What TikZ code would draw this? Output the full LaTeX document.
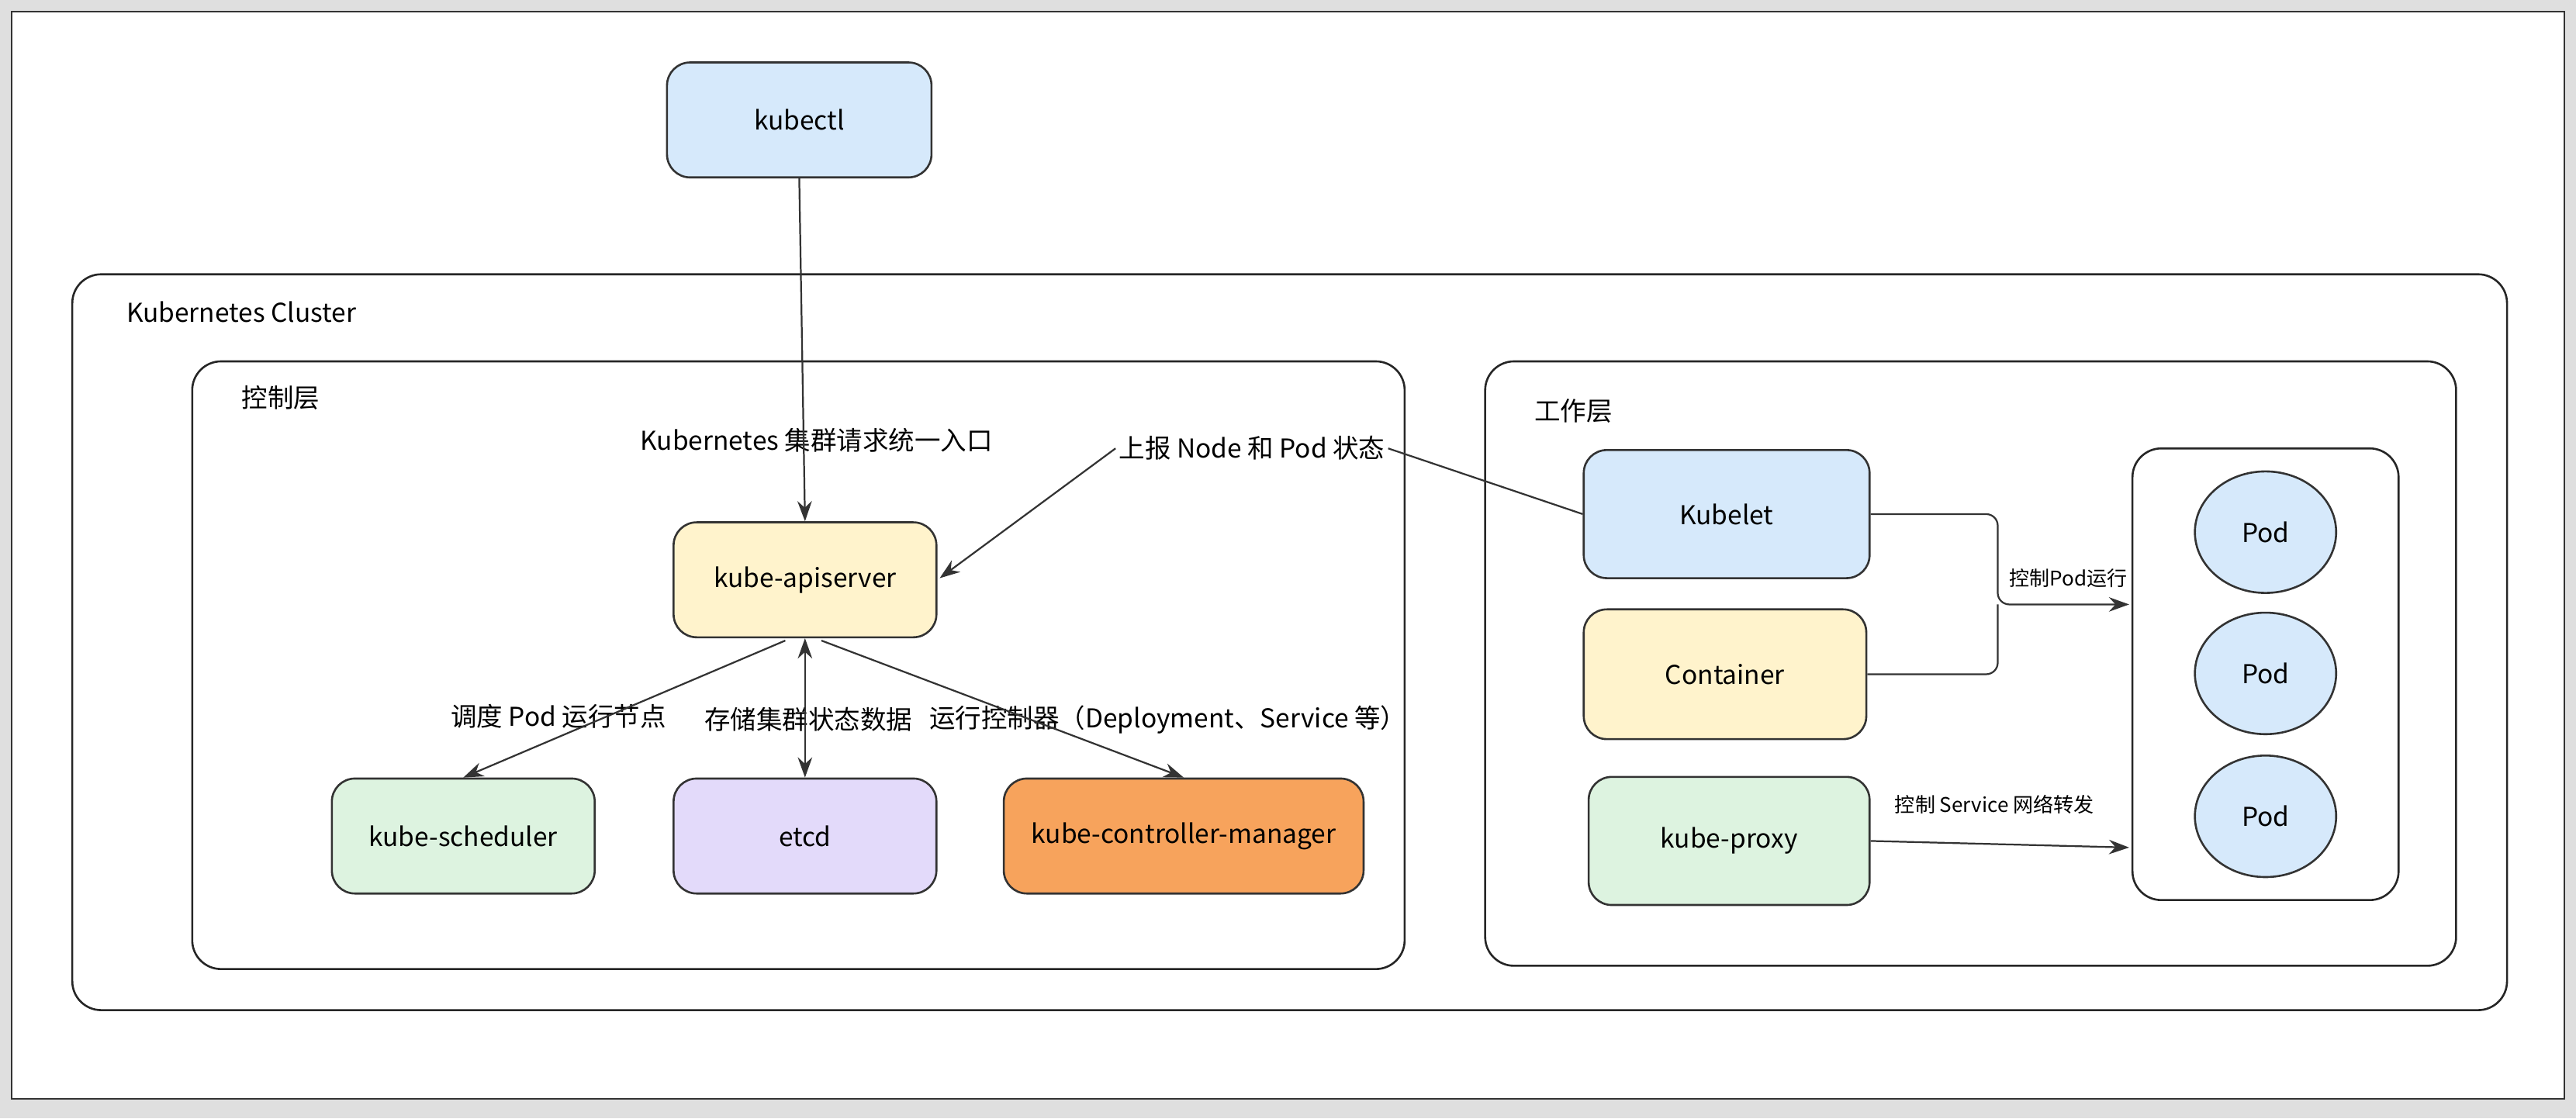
\documentclass[tikz,border=0pt]{standalone}
\usepackage{fontspec}
\setmainfont{Noto Sans CJK SC}
\usetikzlibrary{arrows.meta}
\definecolor{fblue}{HTML}{D6E9FB}
\definecolor{fyel}{HTML}{FFF3CC}
\definecolor{fgreen}{HTML}{DDF3E0}
\definecolor{fpurp}{HTML}{E3DAFA}
\definecolor{forange}{HTML}{F7A35C}
\tikzset{
  box/.style={draw=black!80,line width=0.7pt,rounded corners=8pt,inner sep=0pt,font=\fontsize{9}{10}\selectfont},
  frame/.style={draw=black!85,line width=0.7pt,rounded corners=10pt,inner sep=0pt},
  lab/.style={font=\fontsize{9}{10}\selectfont,inner sep=1pt},
  slab/.style={font=\fontsize{7}{8}\selectfont,inner sep=1pt},
  arr/.style={draw=black!80,line width=0.6pt,-{Stealth[length=7pt,width=5pt]}},
  pod/.style={draw=black!80,line width=0.7pt,ellipse,fill=fblue,minimum width=1.72cm,minimum height=1.48cm,font=\fontsize{9}{10}\selectfont}
}
\newcommand\bx[7]{\node[#6,minimum width={(#4-#2)*0.02cm},minimum height={(#5-#3)*0.02cm}] (#1) at ({(#2+#4)/2},{(#3+#5)/2}) {#7};}
\usetikzlibrary{shapes.geometric}
\begin{document}
\begin{tikzpicture}[x=0.02cm,y=-0.02cm]
\useasboundingbox (0,0) rectangle (1568,681);
\fill[gray!25] (0,0) rectangle (1568,681);
\fill[white] (7,7) rectangle (1561,669);
\draw[black!80,line width=0.6pt] (7,7) rectangle (1561,669);
\bx{cluster}{44}{167}{1526}{615}{frame}{}
\node[lab,anchor=west] (cl) at (75,190) {Kubernetes Cluster};
\bx{ctrl}{117}{220}{855}{590}{frame}{}
\node[lab,anchor=west] (ctl) at (145,242) {控制层};
\bx{work}{904}{220}{1495}{588}{frame}{}
\node[lab,anchor=west] (wl) at (932,250) {工作层};
\bx{kubectl}{406}{38}{567}{108}{box,fill=fblue}{kubectl}
\bx{api}{410}{318}{570}{388}{box,fill=fyel}{kube-apiserver}
\bx{sch}{202}{474}{362}{544}{box,fill=fgreen}{kube-scheduler}
\bx{etcd}{410}{474}{570}{544}{box,fill=fpurp}{etcd}
\bx{kcm}{611}{474}{830}{544}{box,fill=forange}{kube-controller-manager}
\bx{kubelet}{964}{274}{1138}{352}{box,fill=fblue}{Kubelet}
\bx{cont}{964}{371}{1136}{450}{box,fill=fyel}{Container}
\bx{proxy}{967}{473}{1138}{551}{box,fill=fgreen}{kube-proxy}
\bx{pods}{1298}{273}{1460}{548}{frame}{}
\node[pod] (p1) at (1379,324) {Pod};
\node[pod] (p2) at (1379,410) {Pod};
\node[pod] (p3) at (1379,497) {Pod};
\node[lab] (l1) at (497,268) {Kubernetes 集群请求统一入口};
\node[lab] (l2) at (762,273) {上报 Node 和 Pod 状态};
\node[lab] (l3) at (340,436) {调度 Pod 运行节点};
\node[lab] (l4) at (492,438) {存储集群状态数据};
\node[lab] (l5) at (711,438) {运行控制器（Deployment、Service 等）};
\node[slab] (l6) at (1259,352) {控制Pod运行};
\node[slab] (l7) at (1214,490) {控制 Service 网络转发};
\coordinate (j) at (1216,368);
\draw[arr] (kubectl.south) -- (api.north);
\draw[draw=black!80,line width=0.6pt] (kubelet.west) -- (l2.east);
\draw[arr] (l2.west) -- (572,352);
\draw[arr] (478,390) -- (sch.north);
\draw[arr,{Stealth[length=7pt,width=5pt]}-{Stealth[length=7pt,width=5pt]}] (api.south) -- (etcd.north);
\draw[arr] (500,390) -- (kcm.north);
\draw[arr,rounded corners=4pt] (kubelet.east) -| (j) -- (1296,368);
\draw[draw=black!80,line width=0.6pt,rounded corners=4pt] (cont.east) -| (j);
\draw[arr] (proxy.east) -- (1296,516);
\end{tikzpicture}
\end{document}
